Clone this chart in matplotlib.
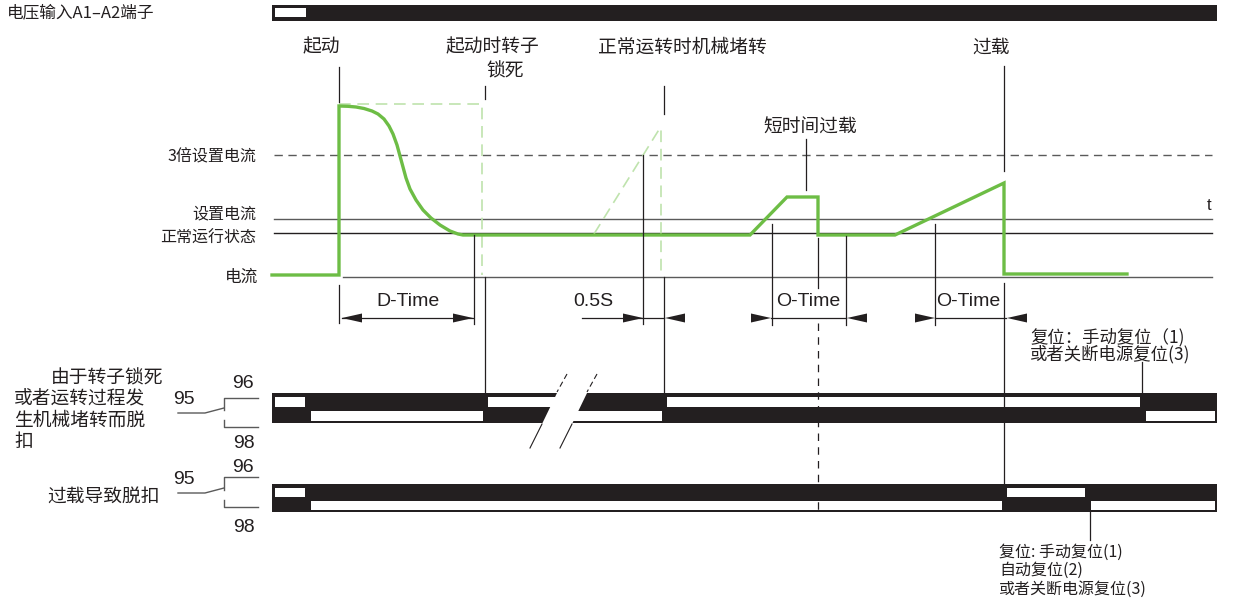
import matplotlib.pyplot as plt
import matplotlib.patches as mpatches

plt.rcParams['font.family'] = ['Noto Sans CJK SC', 'DejaVu Sans']
LATIN = ['Liberation Sans', 'Noto Sans CJK SC']

# diagram units: x = time axis, y = level (axis inverted, like the drawing)
x0, x1 = 272, 1217

# green motor current curve
cur_x = [272, 339, 339, 348, 356, 364, 372, 378, 384, 389, 393, 397, 400, 403, 406,
         410, 416, 423, 431, 440, 450, 458, 463,
         750, 787, 818, 818, 895, 1004, 1004, 1127]
cur_y = [275, 275, 106, 106.3, 107, 108.5, 111, 114, 119, 126, 134, 145, 156, 167, 178,
         189, 200, 210, 218, 225, 231, 234, 235,
         235, 197, 197, 235, 235, 183, 274, 274]

# light dashed "what if" traces (rotor lock at start, jam in normal run)
lock_x = [339, 482, 482]
lock_y = [104, 104, 275]
jam_x = [594, 660, 661, 661]
jam_y = [234, 128, 128, 275]

# reference levels
lvl_3x = 155
lvl_set = 219
lvl_run = 233
lvl_base = 277

# relay bars: edges along the time axis, 0 = upper track white, 1 = lower track white
supply_edges = [272, 307, 1217]
relay1_edges = [272, 307, 485, 565, 664, 1142, 1217]
relay1_state = [0, 1, 0, 1, 0, 1]
relay2_edges = [272, 307, 1004, 1087, 1217]
relay2_state = [0, 1, 0, 1]

fig = plt.figure(figsize=(12.35, 6.04), dpi=100)
ax = fig.add_axes([0, 0, 1, 1])
ax.set_xlim(0, 1235)
ax.set_ylim(604, 0)
ax.axis('off')

GREEN = '#6dbd45'
LGREEN = '#bfe3ad'
BLK = '#231f20'
GRAY = '#5a5a5a'

# supply bar
ax.add_patch(mpatches.Rectangle((x0, 5), x1 - x0, 16, color=BLK, lw=0))
ax.add_patch(mpatches.Rectangle((supply_edges[0] + 3, 8), supply_edges[1] - supply_edges[0] - 4, 9,
                                color='white', lw=0))

# level lines
ax.plot([274, 1212], [lvl_3x, lvl_3x], color=GRAY, lw=1, dashes=(6, 4))
ax.plot([274, 1212], [lvl_set, lvl_set], color=GRAY, lw=1)
ax.plot([274, 1212], [lvl_run, lvl_run], color=BLK, lw=1)
ax.plot([343, 1212], [lvl_base, lvl_base], color=GRAY, lw=1)

ax.plot(lock_x, lock_y, color=LGREEN, lw=1.2, dashes=(7, 4))
ax.plot(jam_x, jam_y, color=LGREEN, lw=1.2, dashes=(7, 4))
ax.plot(cur_x, cur_y, color=GREEN, lw=2.4, solid_joinstyle='miter')

# vertical markers
vlines = [
    (339, 67, 102), (339, 285, 323),
    (485, 86, 99), (485, 277, 394),
    (474, 235, 324),
    (643, 155, 324),
    (664, 86, 114), (664, 277, 394),
    (806, 139, 190),
    (772, 224, 325), (818, 238, 288), (846, 236, 325),
    (935, 224, 325),
    (1004, 66, 171), (1004, 283, 485),
    (1142, 362, 393), (1090, 512, 540),
]
for x, ya, yb in vlines:
    ax.plot([x, x], [ya, yb], color=BLK, lw=0.9)
ax.plot([818, 818], [323, 512], color=BLK, lw=0.9, dashes=(6, 5))


def arrowhead(tip, y, d):
    # d = +1 points right, -1 points left
    ax.add_patch(mpatches.Polygon([(tip, y), (tip - d * 20, y - 4.5), (tip - d * 20, y + 4.5)],
                                  closed=True, color=BLK, lw=0))


ya = 318
ax.plot([342, 473], [ya, ya], color=BLK, lw=0.9)
arrowhead(342, ya, -1)
arrowhead(473, ya, 1)
ax.plot([582, 664], [ya, ya], color=BLK, lw=0.9)
arrowhead(643, ya, 1)
arrowhead(665, ya, -1)
ax.plot([771, 846], [ya, ya], color=BLK, lw=0.9)
arrowhead(771, ya, 1)
arrowhead(847, ya, -1)
ax.plot([935, 1006], [ya, ya], color=BLK, lw=0.9)
arrowhead(935, ya, 1)
arrowhead(1007, ya, -1)


def relay_bar(edges, state, top, bot):
    mid = (top + bot) / 2
    ax.add_patch(mpatches.Rectangle((x0, top), x1 - x0, bot - top, color=BLK, lw=0))
    for i, s in enumerate(state):
        a, b = edges[i], edges[i + 1]
        if s == 0:
            ax.add_patch(mpatches.Rectangle((a + 3, top + 3.5), b - a - 5, mid - top - 5,
                                            color='white', lw=0))
        else:
            ax.add_patch(mpatches.Rectangle((a + 4, mid + 3), b - a - 6, bot - mid - 5.5,
                                            color='white', lw=0))


relay_bar(relay1_edges, relay1_state, 393, 423)
relay_bar(relay2_edges, relay2_state, 484, 512)

# break mark on relay 1
ax.add_patch(mpatches.Polygon([(557.5, 392), (587.5, 392), (572, 424), (542, 424)],
                              closed=True, color='white', lw=0))
ax.plot([567, 557], [374, 392], color=BLK, lw=0.8, dashes=(5, 3))
ax.plot([597, 587], [374, 392], color=BLK, lw=0.8, dashes=(5, 3))
ax.plot([542, 530], [424, 448], color=BLK, lw=0.8)
ax.plot([572, 560], [424, 448], color=BLK, lw=0.8)

# contact symbols 95 / 96 / 98
for t, b, n in [(398, 427, 413), (477, 507, 493)]:
    ax.plot([178, 205, 224], [n, n, n - 5], color=GRAY, lw=1)
    ax.plot([258, 224, 224], [t, t, n - 3], color=GRAY, lw=1)
    ax.plot([224, 224, 258], [n + 7, b, b], color=GRAY, lw=1)

kw = dict(va='center', color=BLK)
ax.text(184, 400, '95', ha='center', fontsize=14, family=LATIN, **kw)
ax.text(243, 383, '96', ha='center', fontsize=14, family=LATIN, **kw)
ax.text(244, 444, '98', ha='center', fontsize=14, family=LATIN, **kw)
ax.text(184, 480, '95', ha='center', fontsize=14, family=LATIN, **kw)
ax.text(243, 467, '96', ha='center', fontsize=14, family=LATIN, **kw)
ax.text(244, 528, '98', ha='center', fontsize=14, family=LATIN, **kw)

# labels
ax.text(7, 13, '电压输入A1–A2端子', ha='left', fontsize=12, **kw)
ax.text(321, 47, '起动', ha='center', fontsize=13.5, **kw)
ax.text(492, 47, '起动时转子', ha='center', fontsize=13.5, **kw)
ax.text(505, 71, '锁死', ha='center', fontsize=13.5, **kw)
ax.text(682, 47, '正常运转时机械堵转', ha='center', fontsize=13.5, **kw)
ax.text(991, 47, '过载', ha='center', fontsize=13.5, **kw)
ax.text(810, 127, '短时间过载', ha='center', fontsize=13.5, **kw)
ax.text(256, 157, '3倍设置电流', ha='right', fontsize=11.5, **kw)
ax.text(256, 214, '设置电流', ha='right', fontsize=11.5, **kw)
ax.text(256, 238, '正常运行状态', ha='right', fontsize=11.5, **kw)
ax.text(258, 277, '电流', ha='right', fontsize=12, **kw)
ax.text(1209, 205, 't', ha='center', fontsize=12, family=LATIN, **kw)

ax.text(408, 302, 'D-Time', ha='center', fontsize=14, family=LATIN, **kw)
ax.text(593, 302, '0.5S', ha='center', fontsize=14, family=LATIN, **kw)
ax.text(808, 301, 'O-Time', ha='center', fontsize=14, family=LATIN, **kw)
ax.text(968, 301, 'O-Time', ha='center', fontsize=14, family=LATIN, **kw)

ax.text(163, 378, '由于转子锁死', ha='right', fontsize=13.5, **kw)
ax.text(14, 398, '或者运转过程发', ha='left', fontsize=13.5, **kw)
ax.text(14, 420, '生机械堵转而脱', ha='left', fontsize=13.5, **kw)
ax.text(14, 442, '扣', ha='left', fontsize=13.5, **kw)
ax.text(160, 497, '过载导致脱扣', ha='right', fontsize=13.5, **kw)

ax.text(1030, 337, '复位：手动复位（1)', ha='left', fontsize=12.5, **kw)
ax.text(1030, 354, '或者关断电源复位(3)', ha='left', fontsize=12.5, **kw)

ax.text(999, 552, '复位: 手动复位(1)', ha='left', fontsize=11.5, **kw)
ax.text(999, 570, '自动复位(2)', ha='left', fontsize=11.5, **kw)
ax.text(999, 589, '或者关断电源复位(3)', ha='left', fontsize=11.5, **kw)

fig.savefig('out.png', dpi=100)
